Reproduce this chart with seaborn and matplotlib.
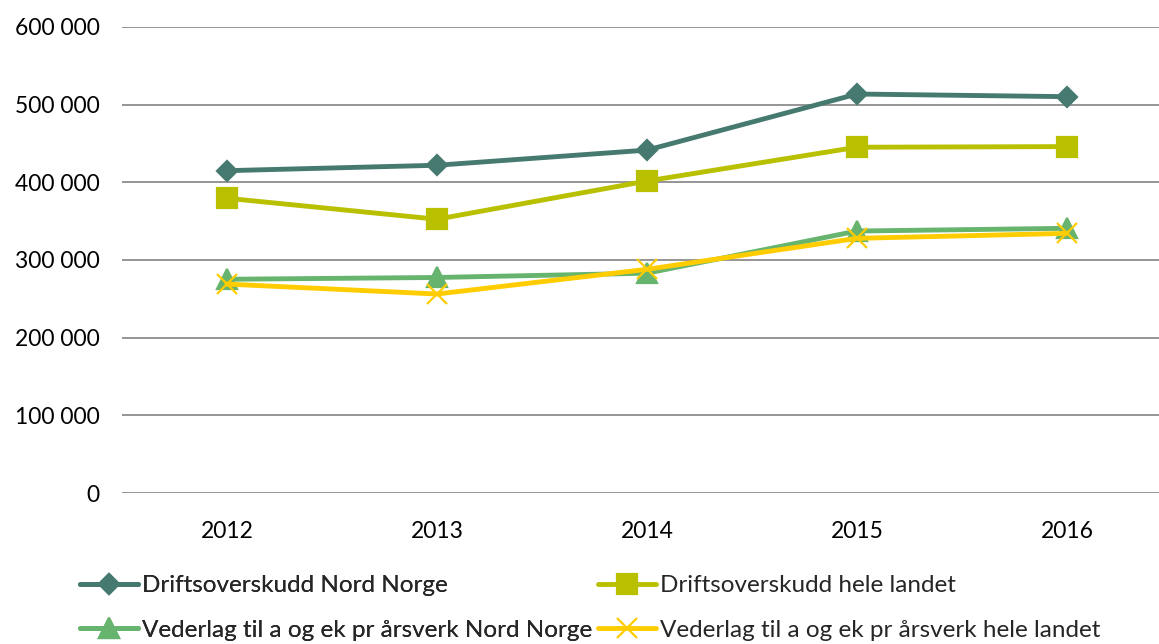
import seaborn as sns
import matplotlib.pyplot as plt
import pandas as pd

aar = ['2012', '2013', '2014', '2015', '2016']
drift_nord = [415000, 422000, 441500, 513700, 510300]
drift_landet = [379500, 352500, 401700, 445200, 446000]
vederlag_nord = [275200, 277500, 283000, 337300, 340800]
vederlag_landet = [269000, 256200, 288000, 327900, 334300]

serier = [
    ('Driftsoverskudd Nord Norge', drift_nord, '#467A70', 'D', 10),
    ('Driftsoverskudd hele landet', drift_landet, '#B8C000', 's', 15),
    ('Vederlag til a og ek pr årsverk Nord Norge', vederlag_nord, '#67B46F', '^', 15),
    ('Vederlag til a og ek pr årsverk hele landet', vederlag_landet, '#FFCC00', 'x', 14),
]

sns.set_style('white')
plt.rcParams['font.family'] = ['Lato', 'DejaVu Sans']

fig = plt.figure(figsize=(11.59, 6.44), dpi=100)
ax = fig.add_axes([122 / 1159, 1 - 493 / 644, 1050 / 1159, 466 / 644])

for navn, verdier, farge, markor, str_ in serier:
    df = pd.DataFrame({'x': range(len(aar)), 'y': verdier})
    sns.lineplot(data=df, x='x', y='y', ax=ax, color=farge, linewidth=3.5,
                 marker=markor, markersize=str_, markeredgecolor=farge,
                 markeredgewidth=1.6, label=navn)

ax.set_xlim(-0.5, 4.5)
ax.set_ylim(0, 600000)
ax.set_yticks(range(0, 600001, 100000))
ax.set_yticklabels([f'{v:,}'.replace(',', ' ') for v in range(0, 600001, 100000)])
ax.set_xticks(range(len(aar)))
ax.set_xticklabels(aar)
ax.yaxis.grid(True, color='#8C8C8C', linewidth=1.3)
ax.set_axisbelow(True)
for s in ax.spines.values():
    s.set_visible(False)
ax.tick_params(axis='both', length=0, labelsize=16.5, colors='black')
ax.tick_params(axis='y', pad=16)
ax.tick_params(axis='x', pad=20)
ax.set_xlabel('')
ax.set_ylabel('')

h, l = ax.get_legend_handles_labels()
ax.legend().remove()
kol1 = fig.legend([h[0], h[2]], [l[0], l[2]], loc='center left',
                  bbox_to_anchor=(80 / 1159, 1 - 608 / 644),
                  frameon=False, fontsize=17.5, handlelength=2.4, handletextpad=0.15,
                  labelspacing=0.95, borderaxespad=0, borderpad=0)
fig.add_artist(kol1)
fig.legend([h[1], h[3]], [l[1], l[3]], loc='center left',
           bbox_to_anchor=(598 / 1159, 1 - 608 / 644),
           frameon=False, fontsize=17.5, handlelength=2.4, handletextpad=0.15,
           labelspacing=0.95, borderaxespad=0, borderpad=0)

fig.savefig('out.png', dpi=100)
